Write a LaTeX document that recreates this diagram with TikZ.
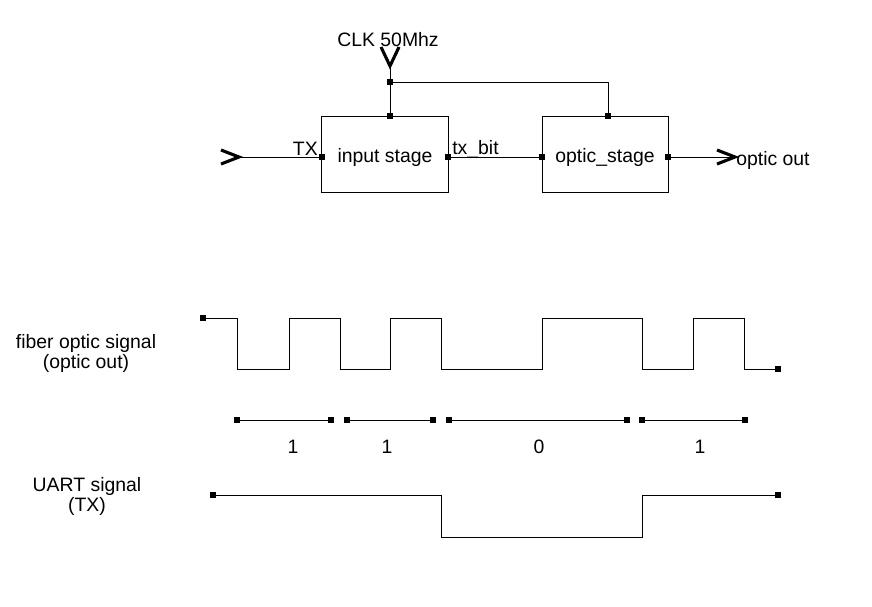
\documentclass[tikz,border=0pt]{standalone}
\usepackage{fontspec}
\setmainfont{Liberation Sans}
\usepackage{tikz}
\usetikzlibrary{positioning, calc}
\tikzset{
    block/.style={rectangle, draw, line width=0.7pt, minimum width=3.15cm, minimum height=1.9cm, inner sep=0pt},
    port/.style={rectangle, fill=black, inner sep=0pt, minimum size=0.16cm},
    wire/.style={line width=0.7pt},
    chevron/.style={line width=2.2pt, line join=miter},
    lbl/.style={font=\fontsize{13.8pt}{14.2pt}\selectfont, inner sep=0pt}
}

\begin{document}
\begin{tikzpicture}[x=0.025cm, y=-0.025cm]
            \useasboundingbox (0,0) rectangle (872,606);
            \fill[white] (0,0) rectangle (872,606);

            % Blocks
            \node[block] (inp) at (385,154) {};
            \node[block] (opt) at (605,154) {};
            \node[lbl] (inpTxt) at ($(inp.center)+(0,3)$) {input stage};
            \node[lbl] (optTxt) at ($(opt.center)+(0,3)$) {optic\_stage};

            % Ports
            \node[port] (inTX) at (322,157) {};
            \node[port] (inBit) at (448,157) {};
            \node[port] (inClk) at (390,116) {};
            \node[port] (optBit) at (542,157) {};
            \node[port] (optOut) at (668,157) {};
            \node[port] (optClk) at (608,116) {};
            \node[port] (clkJ) at (390,82) {};

            % Terminals
            \coordinate (txIn) at (239,157);
            \coordinate (clkIn) at (390,66);
            \coordinate (optEnd) at (735,157);
            \draw[chevron] ($(txIn)+(-18,-7)$) -- (txIn) -- ($(txIn)+(-18,7)$);
            \draw[chevron] ($(clkIn)+(-9,-19)$) -- (clkIn) -- ($(clkIn)+(9,-19)$);
            \draw[chevron] ($(optEnd)+(-18,-7)$) -- (optEnd) -- ($(optEnd)+(-18,7)$);

            % Wires
            \draw[wire] (txIn) -- (inTX);
            \draw[wire] (inBit) -- (optBit);
            \draw[wire] (optOut) -- (optEnd);
            \draw[wire] (clkIn) -- (clkJ) -- (inClk);
            \draw[wire] (clkJ) -| (optClk);

            % Labels
            \node[lbl] (clkLbl) at (388,40) {CLK 50Mhz};
            \node[lbl, anchor=east] (txLbl) at (318,149) {TX};
            \node[lbl, anchor=west] (bitLbl) at (452,149) {tx\_bit};
            \node[lbl, anchor=west] (outLbl) at (736,160) {optic out};

            % Fiber optic signal
            \node[lbl, align=center] (fibLbl) at (86,353) {fiber optic signal\\(optic out)};
            \node[port] (fStart) at (203,318) {};
            \node[port] (fEnd) at (778,369) {};
            \draw[wire] (fStart) -| (237,369) -| (289,318) -| (340,369) -| (390,318)
                -| (441,369) -| (542,318) -| (642,369) -| (693,318) -| (744,369) -- (fEnd);

            % Bit periods
            \foreach \n/\x in {1/237, 2/331, 3/347, 4/433, 5/449, 6/627, 7/642, 8/745}
                \node[port] (b\n) at (\x,420) {};
            \draw[wire] (b1) -- (b2) (b3) -- (b4) (b5) -- (b6) (b7) -- (b8);
            \foreach \x/\v in {293/1, 387/1, 539/0, 700/1}
                \node[lbl] at (\x,447) {\v};

            % UART signal
            \node[lbl, align=center] (uartLbl) at (87,496) {UART signal\\(TX)};
            \node[port] (uStart) at (213,495) {};
            \node[port] (uEnd) at (778,495) {};
            \draw[wire] (uStart) -| (441,537) -| (642,495) -- (uEnd);
\end{tikzpicture}
\end{document}
